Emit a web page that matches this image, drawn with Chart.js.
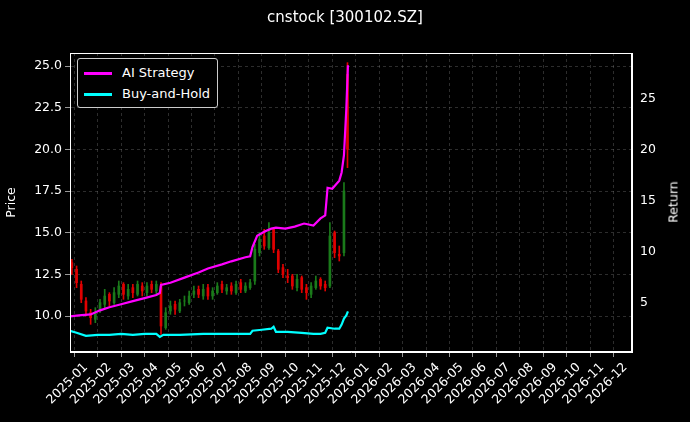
<!DOCTYPE html>
<html>
<head>
<meta charset="utf-8">
<script src="https://cdn.jsdelivr.net/npm/chart.js@4"></script>
<style>
  html, body { margin: 0; padding: 0; background: #000; }
  #wrap { position: relative; width: 690px; height: 422px; }
  #legend {
    position: absolute; left: 77px; top: 58px; padding: 3px 7px 3px 6px;
    border: 1px solid #ccc; border-radius: 3px; background: #000;
    font: 13px "DejaVu Sans", sans-serif; color: #fff; line-height: 21px;
  }
  #legend span.sw { display: inline-block; width: 28px; height: 3px; vertical-align: middle; margin-right: 10px; }
  #rtitle { position: absolute; left: 673px; top: 202px; transform: translate(-50%, -50%) rotate(-90deg);
    font: 12.5px "DejaVu Sans", sans-serif; color: #fff; }
</style>
</head>
<body>
<div id="wrap">
  <canvas id="chart" width="690" height="422"></canvas>
  <div id="legend">
    <div><span class="sw" style="background:#ff00ff"></span>AI Strategy</div>
    <div><span class="sw" style="background:#00ffff"></span>Buy-and-Hold</div>
  </div>
  <div id="rtitle">Return</div>
</div>
<script>
// x values are months since 2025-01 (fractional)
const candleX = [-0.6,-0.4,-0.2,0.0,0.2,0.4,0.6,0.8,1.0,1.2,1.4,1.6,1.8,2.0,2.2,2.4,2.6,2.8,3.0,3.2,
  3.4,3.6,3.8,4.0,4.2,4.4,4.6,4.8,5.0,5.2,5.4,5.6,5.8,6.0,6.2,6.4,6.6,6.8,7.0,7.2,
  7.4,7.6,7.8,8.0,8.2,8.4,8.6,8.8,9.0,9.2,9.4,9.6,9.8,10.0,10.2,10.4,10.6,10.8,11.0,11.15];
const opens  = [13.2,12.8,11.9,10.9,10.2,9.8,10.3,10.7,11.3,10.8,11.3,11.9,11.2,11.7,11.3,11.8,11.4,11.9,11.5,11.8,
  9.3,10.3,10.7,10.3,10.9,10.8,11.3,11.6,11.2,11.7,11.2,11.4,11.9,11.5,11.8,11.4,12.0,11.5,11.7,12.1,
  13.8,14.8,14.1,15.2,13.9,12.9,12.4,12.4,11.7,12.3,11.7,11.3,11.7,12.2,11.9,11.8,15.0,13.7,13.8,24.5];
const closes = [12.9,12.0,11.0,10.3,9.9,10.2,10.8,11.2,10.9,11.4,11.8,11.3,11.6,11.4,11.9,11.5,11.8,11.6,11.9,9.4,
  10.2,10.6,10.4,10.8,10.9,11.2,11.5,11.3,11.6,11.2,11.5,11.8,11.6,11.7,11.5,11.9,11.6,11.8,12.0,14.0,
  14.6,14.2,15.0,14.0,12.8,12.5,12.3,11.8,12.2,11.6,11.4,11.8,12.1,11.8,11.7,14.8,13.8,13.6,17.5,20.0];
const highs  = [13.4,13.0,12.1,11.1,10.4,10.5,11.0,11.6,11.4,11.7,12.1,12.0,11.9,11.9,12.1,12.0,12.0,12.1,12.1,12.0,
  10.5,10.9,10.9,11.0,11.2,11.5,11.8,11.8,11.9,11.9,11.7,12.0,12.1,11.9,12.0,12.1,12.2,12.0,12.2,14.3,
  15.0,15.2,15.6,15.3,14.0,13.1,12.8,12.5,12.5,12.4,11.9,12.0,12.4,12.3,12.1,15.6,15.1,14.2,18.0,25.2];
const lows   = [12.5,11.7,10.8,10.0,9.5,9.6,10.2,10.5,10.6,10.7,11.1,11.0,11.0,11.1,11.2,11.2,11.2,11.4,11.3,8.9,
  9.2,10.1,10.1,10.2,10.6,10.7,11.1,11.1,11.0,11.0,11.0,11.3,11.4,11.3,11.3,11.3,11.4,11.4,11.6,11.9,
  13.6,14.0,14.0,13.8,12.6,12.3,12.0,11.6,11.5,11.4,11.0,11.1,11.6,11.6,11.5,11.7,13.5,13.3,13.6,18.9];

const stratX = [-0.68,-0.3,0.2,0.6,1.0,1.5,2.0,2.5,3.0,3.15,3.2,3.6,4.2,4.8,5.2,5.8,6.2,6.8,7.0,7.1,7.3,7.6,7.9,8.1,8.5,8.9,9.3,9.7,10.0,10.2,10.3,10.5,10.8,10.9,11.0,11.1,11.17];
const stratY = [3.7,3.8,3.9,4.3,4.6,4.9,5.2,5.5,5.8,6.0,6.8,7.0,7.5,8.0,8.4,8.8,9.1,9.5,9.6,10.5,11.6,12.0,12.3,12.4,12.3,12.5,12.8,12.6,13.3,13.6,16.3,16.2,17.0,17.8,19.5,24.0,28.3];

const holdX = [-0.68,-0.4,0.0,0.5,1.0,1.5,2.0,2.5,3.0,3.15,3.3,4.0,5.0,6.0,7.0,7.1,7.5,7.9,8.0,8.1,8.6,9.2,9.7,10.0,10.2,10.3,10.6,10.8,10.9,11.0,11.1,11.17];
const holdY = [2.3,2.1,1.8,1.9,1.9,2.0,1.9,2.0,2.0,1.7,1.9,1.9,2.0,2.0,2.0,2.3,2.4,2.5,2.7,2.2,2.2,2.1,2.0,2.0,2.1,2.6,2.5,2.5,2.9,3.5,3.8,4.2];

const up = '#1a7a1a', down = '#e00000';
const candleColors = closes.map((c, i) => c >= opens[i] ? up : down);

const gridStyle = { color: 'rgba(150,150,150,0.5)', lineWidth: 0.6, tickColor: '#fff', tickLength: 5 };
const dashBorder = { color: '#fff', width: 1, dash: [3, 3] };
const font = { family: '"DejaVu Sans", sans-serif', size: 12.5 };

new Chart(document.getElementById('chart'), {
  type: 'bar',
  data: {
    datasets: [
      { type: 'line', label: 'AI Strategy', yAxisID: 'yr', data: stratX.map((x, i) => ({ x, y: stratY[i] })),
        borderColor: '#ff00ff', borderWidth: 2.2, pointRadius: 0, order: 0 },
      { type: 'line', label: 'Buy-and-Hold', yAxisID: 'yr', data: holdX.map((x, i) => ({ x, y: holdY[i] })),
        borderColor: '#00ffff', borderWidth: 2.2, pointRadius: 0, order: 0 },
      { label: 'wick', yAxisID: 'y', grouped: false, barThickness: 1, order: 2,
        data: candleX.map((x, i) => ({ x, y: [lows[i], highs[i]] })), backgroundColor: candleColors },
      { label: 'body', yAxisID: 'y', grouped: false, barThickness: 2, order: 1,
        data: candleX.map((x, i) => ({ x, y: [opens[i], closes[i]] })), backgroundColor: candleColors }
    ]
  },
  options: {
    responsive: false,
    animation: false,
    layout: { padding: 0 },
    plugins: {
      legend: { display: false },
      tooltip: { enabled: false },
      title: { display: true, text: 'cnstock [300102.SZ]', color: '#fff',
        font: { family: '"DejaVu Sans", sans-serif', size: 15, weight: 'normal' }, padding: { top: 9, bottom: 26 } }
    },
    scales: {
      x: {
        type: 'linear', min: -0.68, max: 23.28, offset: false,
        afterBuildTicks: s => { s.ticks = []; for (let m = 0; m < 24; m++) s.ticks.push({ value: m }); },
        afterFit: s => { s.height = 70; },
        ticks: { color: '#fff', font, minRotation: 45, maxRotation: 45, autoSkip: false,
          callback: v => (2025 + Math.floor(v / 12)) + '-' + String(v % 12 + 1).padStart(2, '0') },
        grid: gridStyle, border: dashBorder
      },
      y: {
        position: 'left', min: 7.84, max: 25.78,
        afterFit: s => { s.width = 70; },
        afterBuildTicks: s => { s.ticks = [10, 12.5, 15, 17.5, 20, 22.5, 25].map(v => ({ value: v })); },
        ticks: { color: '#fff', font, callback: v => v.toFixed(1) },
        title: { display: true, text: 'Price', color: '#fff', font },
        grid: gridStyle, border: dashBorder
      },
      yr: {
        position: 'right', min: 0.22, max: 29.5,
        afterFit: s => { s.width = 58; },
        afterBuildTicks: s => { s.ticks = [5, 10, 15, 20, 25].map(v => ({ value: v })); },
        ticks: { color: '#fff', font },
        grid: { display: false, tickColor: '#fff', tickLength: 5 }, border: { color: '#fff', width: 1 }
      }
    }
  },
  plugins: [{
    id: 'frame',
    afterDraw(c) {
      const a = c.chartArea, ctx = c.ctx;
      ctx.save(); ctx.strokeStyle = '#fff'; ctx.lineWidth = 1;
      ctx.strokeRect(a.left + 0.5, a.top + 0.5, a.right - a.left - 1, a.bottom - a.top - 1);
      ctx.restore();
    }
  }]
});
</script>
</body>
</html>
